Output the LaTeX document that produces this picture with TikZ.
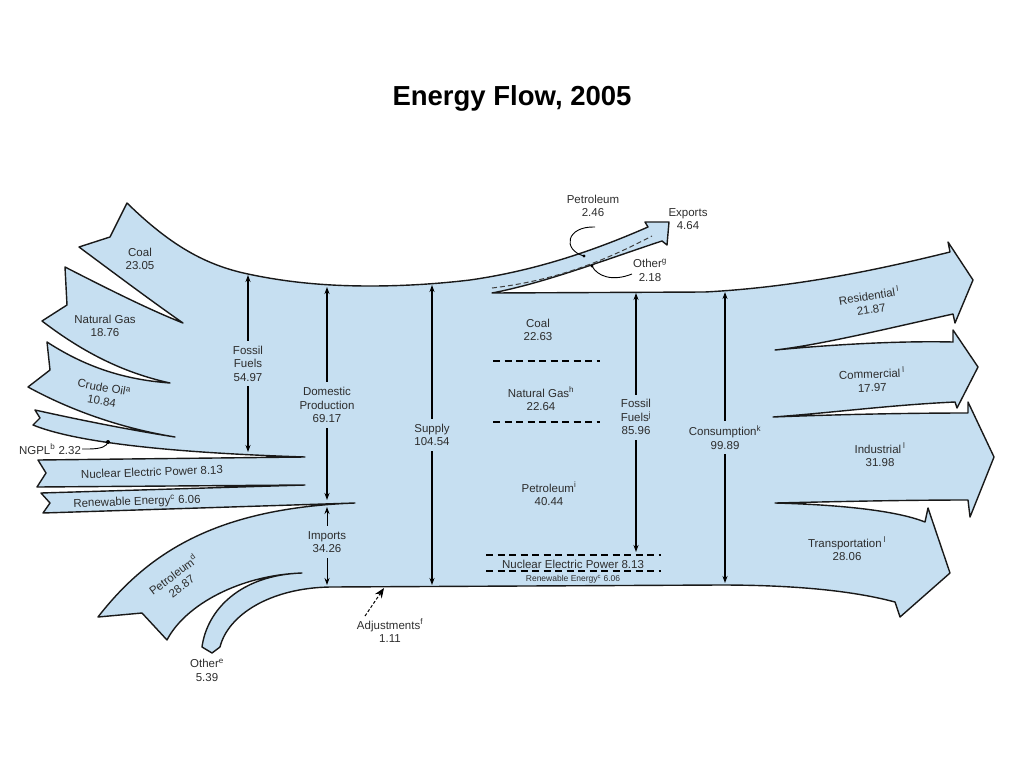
\documentclass[tikz,border=0pt]{standalone}
\usepackage{fontspec}
\setmainfont{Liberation Sans}
\usetikzlibrary{arrows.meta}
\definecolor{flowblue}{RGB}{198,223,241}
\definecolor{ink}{RGB}{45,45,45}

\begin{document}
\begin{tikzpicture}[
      x=1pt, y=-1pt,
      every node/.style={inner sep=1pt, font=\fontsize{11.5}{13.5}\selectfont, text=ink, align=center},
      flow/.style={fill=flowblue, draw=black!90, line width=1.4pt, line join=round},
      span/.style={{Stealth[length=7pt,width=5pt]}-{Stealth[length=7pt,width=5pt]}, line width=1.6pt},
      mask/.style={fill=flowblue, inner xsep=1pt, inner ysep=5pt},
      cut/.style={line width=2.2pt, dash pattern=on 7pt off 4.5pt},
      pointer/.style={line width=0.9pt}
    ]
    \useasboundingbox (0,0) rectangle (1024,768);

    \node[font=\fontsize{27.5}{30}\selectfont\bfseries, text=black] (title) at (512,98) {Energy Flow, 2005};

    % the flow, all bands in one outline
    \filldraw[flow]
      (127,203) .. controls (170,245) and (205,265) .. (248,274)
      .. controls (290,283) and (330,286) .. (370,286)
      .. controls (410,286) and (445,283) .. (470,280)
      % exports
      .. controls (540,270) and (600,248) .. (648,227)
      -- (645,222) -- (669,222) -- (667,245) -- (662,241)
      .. controls (610,258) and (545,283) .. (492,293)
      -- (705,292)
      % residential
      .. controls (800,287) and (885,268) .. (950,252)
      -- (948,242) -- (973,280) -- (955,323) -- (953,314)
      .. controls (890,328) and (820,345) .. (775,350)
      % commercial
      .. controls (850,343) and (910,341) .. (953,342)
      -- (953,330) -- (978,367) -- (957,408) -- (955,402)
      .. controls (890,405) and (830,413) .. (773,417)
      % industrial
      .. controls (850,414) and (920,413) .. (968,413)
      -- (968,402) -- (994,457) -- (970,517) -- (968,500)
      .. controls (900,500) and (820,502) .. (775,503)
      % transportation
      .. controls (850,505) and (900,512) .. (925,522)
      -- (928,508) -- (950,573) -- (900,617) -- (895,602)
      .. controls (850,590) and (790,585) .. (720,585)
      -- (330,587)
      % other imports
      .. controls (270,588) and (228,615) .. (220,647)
      -- (212,653) -- (202,647)
      .. controls (207,610) and (240,575) .. (302,573)
      % petroleum imports
      .. controls (240,575) and (185,605) .. (167,640)
      -- (142,613) -- (98,617)
      .. controls (150,550) and (220,508) .. (355,503)
      % renewable, nuclear
      -- (43,513) -- (50,503) -- (41,493) -- (305,485)
      -- (37,487) -- (46,473) -- (38,460) -- (305,457)
      % ngpl
      .. controls (150,452) and (70,440) .. (33,425)
      -- (40,418) -- (35,410)
      .. controls (80,420) and (130,430) .. (175,437)
      % crude oil
      .. controls (120,428) and (70,410) .. (28,387)
      -- (50,370) -- (47,342)
      .. controls (90,370) and (130,380) .. (170,383)
      % natural gas
      .. controls (120,372) and (80,350) .. (42,321)
      -- (67,305) -- (65,267)
      .. controls (110,290) and (150,310) .. (183,323)
      % coal
      .. controls (150,300) and (110,270) .. (79,247)
      -- (110,237) -- cycle;

    % split of exports
    \draw[black!75, line width=1pt, dash pattern=on 5pt off 3pt]
      (492,288) .. controls (560,280) and (610,258) .. (652,236);

    % separators in consumption
    \draw[cut] (493,361) -- (600,361);
    \draw[cut] (493,422) -- (600,422);
    \draw[cut] (486,555) -- (661,555);
    \draw[cut] (486,571) -- (661,571);

    % totals
    \draw[span] (248,275) -- node[mask] (fossil-in) {Fossil\\Fuels\\54.97} (248,452);
    \draw[span] (327,287) -- node[mask, pos=0.555] (domestic) {Domestic\\Production\\69.17} (327,500);
    \draw[span, line width=0.9pt] (327,507) -- node[mask, pos=0.45] (imports) {Imports\\34.26} (327,585);
    \draw[span] (432,285) -- node[mask] (supply) {Supply\\104.54} (432,585);
    \draw[span] (636,293) -- node[mask, pos=0.48] (fossil-out) {Fossil\\Fuels\textsuperscript{j}\\85.96} (636,552);
    \draw[span] (725,292) -- node[mask] (consumption) {Consumption\textsuperscript{k}\\99.89} (725,583);

    % sources
    \node (coal-in) at (140,259) {Coal\\23.05};
    \node (gas-in) at (105,326) {Natural Gas\\18.76};
    \node[rotate=-10] (oil-in) at (103,394) {Crude Oil\textsuperscript{a}\\10.84};
    \node (ngpl-in) at (50,449) {NGPL\textsuperscript{b} 2.32};
    \node[rotate=2] (nuclear-in) at (152,472) {Nuclear Electric Power 8.13};
    \node[rotate=2] (renew-in) at (137,502) {Renewable Energy\textsuperscript{c} 6.06};
    \node[rotate=37] (petrol-in) at (177,580) {Petroleum\textsuperscript{d}\\28.87};
    \node (other-in) at (207,670) {Other\textsuperscript{e}\\5.39};
    \node (adjust) at (390,631) {Adjustments\textsuperscript{f}\\1.11};

    % exports
    \node (exports) at (688,219) {Exports\\4.64};
    \node (petrol-out) at (593,206) {Petroleum\\2.46};
    \node (other-out) at (650,270) {Other\textsuperscript{g}\\2.18};

    % consumption by source
    \node (coal-out) at (538,330) {Coal\\22.63};
    \node (gas-out) at (541,399) {Natural Gas\textsuperscript{h}\\22.64};
    \node (oil-out) at (549,494) {Petroleum\textsuperscript{i}\\40.44};
    \node (nuclear-out) at (573,564) {Nuclear Electric Power 8.13};
    \node[font=\fontsize{8.5}{10}\selectfont] (renew-out) at (573,579) {Renewable Energy\textsuperscript{c} 6.06};

    % sectors
    \node[rotate=9] (resid) at (870,302) {Residential\,\textsuperscript{l}\\21.87};
    \node[rotate=2] (comm) at (872,380) {Commercial\,\textsuperscript{l}\\17.97};
    \node (indus) at (880,455) {Industrial\,\textsuperscript{l}\\31.98};
    \node (trans) at (847,549) {Transportation\,\textsuperscript{l}\\28.06};

    % pointers
    \coordinate (ngpl-dot) at (108,442);
    \coordinate (petrol-a) at (595,227);
    \coordinate (petrol-dot) at (584,256);
    \coordinate (other-dot) at (592,266);
    \coordinate (adjust-tail) at (365,616);
    \coordinate (adjust-head) at (384,588);
    \draw[pointer] (ngpl-in.east) -- ++(6,0) .. controls (102,449) and (107,446) .. (ngpl-dot);
    \fill (ngpl-dot) circle (2pt);
    \draw[pointer] (petrol-a) .. controls (566,226) and (562,250) .. (petrol-dot);
    \fill (petrol-dot) circle (1.6pt);
    \draw[pointer] ([yshift=-4pt]other-out.west) .. controls (612,282) and (597,276) .. (other-dot);
    \fill (other-dot) circle (1.6pt);
    \draw[-{Stealth[length=10pt,width=8pt]}, line width=1pt, densely dashed] (adjust-tail) -- (adjust-head);
\end{tikzpicture}
\end{document}
